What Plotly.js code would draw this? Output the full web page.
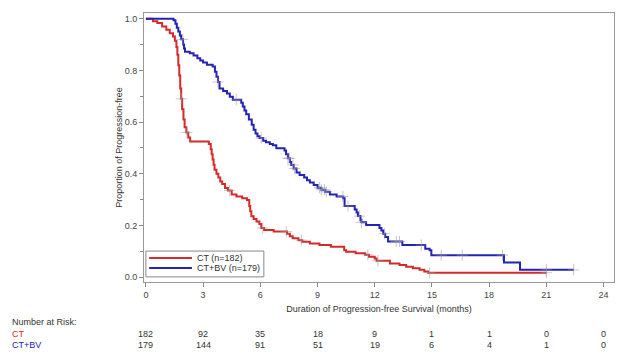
<!DOCTYPE html>
<html>
<head>
<meta charset="utf-8">
<script src="https://cdn.plot.ly/plotly-3.0.1.min.js"></script>
<style>html,body{margin:0;padding:0;background:#fff;}#chart{width:623px;height:355px;}</style>
</head>
<body>
<div id="chart"></div>
<script>
// Kaplan-Meier step data (time in months, proportion progression-free after each step)
var ctTime = [0,0.37,0.6,0.85,1.07,1.25,1.42,1.52,1.6,1.65,1.7,1.75,1.8,1.85,1.9,1.97,2.03,2.12,2.22,2.32,3.3,3.4,3.45,3.5,3.55,3.6,3.7,3.8,3.9,4.0,4.15,4.3,4.5,4.75,5.05,5.3,5.42,5.47,5.53,5.65,5.8,5.95,6.05,6.2,6.7,7.4,7.55,7.7,8.0,8.2,8.6,9.1,9.7,10.4,10.5,11.0,11.5,11.7,12.0,12.1,12.8,13.3,13.65,14.0,14.35,14.6,14.8,21.0];
var ctSurv = [1.0,0.99,0.983,0.97,0.957,0.944,0.931,0.915,0.89,0.86,0.82,0.78,0.73,0.69,0.65,0.61,0.58,0.56,0.54,0.525,0.515,0.495,0.475,0.455,0.435,0.415,0.4,0.385,0.37,0.36,0.345,0.335,0.32,0.312,0.305,0.298,0.275,0.255,0.235,0.225,0.215,0.205,0.19,0.182,0.176,0.168,0.158,0.15,0.143,0.137,0.13,0.124,0.117,0.104,0.098,0.092,0.086,0.079,0.072,0.063,0.053,0.047,0.04,0.034,0.028,0.022,0.017,0.017];
var bvTime = [0,1.45,1.55,1.62,1.7,1.78,1.85,1.95,2.0,2.05,2.3,2.5,2.7,2.85,3.0,3.2,3.5,3.62,3.7,3.78,3.86,4.05,4.25,4.4,4.56,5.0,5.08,5.17,5.26,5.4,5.55,5.65,5.75,5.85,5.96,6.15,6.3,6.5,6.66,6.84,7.27,7.35,7.45,7.55,7.62,7.75,7.9,8.06,8.3,8.45,8.6,8.8,9.0,9.2,9.4,9.65,10.0,10.35,10.42,10.95,11.05,11.12,11.25,11.3,11.55,12.25,12.35,12.45,12.55,12.7,13.45,14.65,14.88,14.97,18.78,19.62,22.45];
var bvSurv = [1.0,0.994,0.98,0.965,0.95,0.935,0.92,0.9,0.885,0.872,0.866,0.858,0.847,0.838,0.83,0.822,0.815,0.795,0.775,0.755,0.73,0.72,0.71,0.698,0.686,0.675,0.66,0.645,0.63,0.61,0.59,0.57,0.556,0.545,0.538,0.528,0.522,0.515,0.51,0.499,0.49,0.475,0.46,0.445,0.434,0.42,0.405,0.395,0.385,0.375,0.366,0.356,0.346,0.338,0.33,0.32,0.312,0.305,0.275,0.262,0.25,0.236,0.222,0.212,0.202,0.19,0.18,0.168,0.155,0.138,0.124,0.11,0.104,0.085,0.056,0.028,0.028];
// censoring times
var ctCens = [1.86,2.15,4.39,6.13,7.36,8.15,11.64,12.17,14.88,21.0];
var bvCens = [1.94,3.78,4.74,6.05,7.45,7.54,7.71,7.8,9.11,9.2,9.37,9.46,10.33,10.6,11.2,11.3,12.52,13.13,13.3,14.44,15.49,16.59,18.7,21.0,22.43];
// number at risk
var riskTimes = [0,3,6,9,12,15,18,21,24];
var ctRisk = [182,92,35,18,9,1,1,0,0];
var bvRisk = [179,144,91,51,19,6,4,1,0];
var groupNames = ['CT (n=182)','CT+BV (n=179)'];
var rowLabels = ['CT','CT+BV'];

var RED = '#d42a2a', BLUE = '#2323b4';
var CENS = 'rgba(150,150,165,0.55)';
function stepAt(ts, ss, t){ var v = ss[0]; for (var i=0;i<ts.length;i++){ if (ts[i] <= t) v = ss[i]; } return v; }

var traces = [
  {x: ctTime, y: ctSurv, type:'scatter', mode:'lines', line:{shape:'hv', color:RED, width:2}, name:groupNames[0]},
  {x: bvTime, y: bvSurv, type:'scatter', mode:'lines', line:{shape:'hv', color:BLUE, width:2}, name:groupNames[1]},
  {x: ctCens, y: ctCens.map(function(t){return stepAt(ctTime, ctSurv, t);}), type:'scatter', mode:'markers',
   marker:{symbol:'cross-thin-open', size:8, color:CENS, line:{color:CENS, width:1}}, showlegend:false, hoverinfo:'skip'},
  {x: bvCens, y: bvCens.map(function(t){return stepAt(bvTime, bvSurv, t);}), type:'scatter', mode:'markers',
   marker:{symbol:'cross-thin-open', size:8, color:CENS, line:{color:CENS, width:1}}, showlegend:false, hoverinfo:'skip'}
];

var ann = [];
var rowY = [-0.193, -0.234];
ann.push({xref:'paper', yref:'paper', x:-0.285, y:-0.149, xanchor:'left', yanchor:'middle', text:'Number at Risk:', showarrow:false, font:{size:9, color:'#333'}});
ann.push({xref:'paper', yref:'paper', x:-0.285, y:rowY[0], xanchor:'left', yanchor:'middle', text:rowLabels[0], showarrow:false, font:{size:9, color:RED}});
ann.push({xref:'paper', yref:'paper', x:-0.285, y:rowY[1], xanchor:'left', yanchor:'middle', text:rowLabels[1], showarrow:false, font:{size:9, color:BLUE}});
riskTimes.forEach(function(t,i){
  ann.push({xref:'x', yref:'paper', x:t, y:rowY[0], xanchor:'center', yanchor:'middle', text:String(ctRisk[i]), showarrow:false, font:{size:9, color:'#333'}});
  ann.push({xref:'x', yref:'paper', x:t, y:rowY[1], xanchor:'center', yanchor:'middle', text:String(bvRisk[i]), showarrow:false, font:{size:9, color:'#333'}});
});
// compact legend box (SAS-style) drawn in paper coordinates
var legY = [0.089, 0.052];
var shapes = [
  {type:'rect', xref:'paper', yref:'paper', x0:0.004, x1:0.255, y0:0.019, y1:0.115, line:{color:'#888', width:1}, fillcolor:'#fff', layer:'above'},
  {type:'line', xref:'paper', yref:'paper', x0:0.011, x1:0.102, y0:legY[0], y1:legY[0], line:{color:RED, width:2}, layer:'above'},
  {type:'line', xref:'paper', yref:'paper', x0:0.011, x1:0.102, y0:legY[1], y1:legY[1], line:{color:BLUE, width:2}, layer:'above'}
];
groupNames.forEach(function(n,i){
  ann.push({xref:'paper', yref:'paper', x:0.108, y:legY[i], xanchor:'left', yanchor:'middle', text:n, showarrow:false, font:{size:9, color:'#333'}});
});

var layout = {
  width:623, height:355,
  margin:{l:144, r:9, t:13, b:73},
  paper_bgcolor:'#fff', plot_bgcolor:'#fff',
  font:{family:'"Liberation Sans", Arial, sans-serif', size:9, color:'#333'},
  showlegend:false,
  xaxis:{range:[-0.1, 24.55], tickvals:riskTimes, ticks:'outside', ticklen:4, tickcolor:'#888',
         showline:true, linecolor:'#999', linewidth:1, mirror:true, showgrid:false, zeroline:false,
         tickfont:{size:9, color:'#444'},
         title:{text:'Duration of Progression-free Survival (months)', font:{size:9, color:'#333'}, standoff:6}},
  yaxis:{range:[-0.019, 1.022], tickvals:[0,0.2,0.4,0.6,0.8,1.0], tickformat:'.1f', ticks:'outside', ticklen:4, tickcolor:'#888',
         minor:{tickvals:[0.1,0.3,0.5,0.7,0.9], ticks:'outside', ticklen:3, tickcolor:'#888'},
         showline:true, linecolor:'#999', linewidth:1, mirror:true, showgrid:false, zeroline:false,
         tickfont:{size:9, color:'#444'},
         title:{text:'Proportion of Progression-free', font:{size:9, color:'#333'}, standoff:0}},
  shapes: shapes,
  annotations: ann
};
Plotly.newPlot('chart', traces, layout, {displayModeBar:false, staticPlot:true});
</script>
</body>
</html>
